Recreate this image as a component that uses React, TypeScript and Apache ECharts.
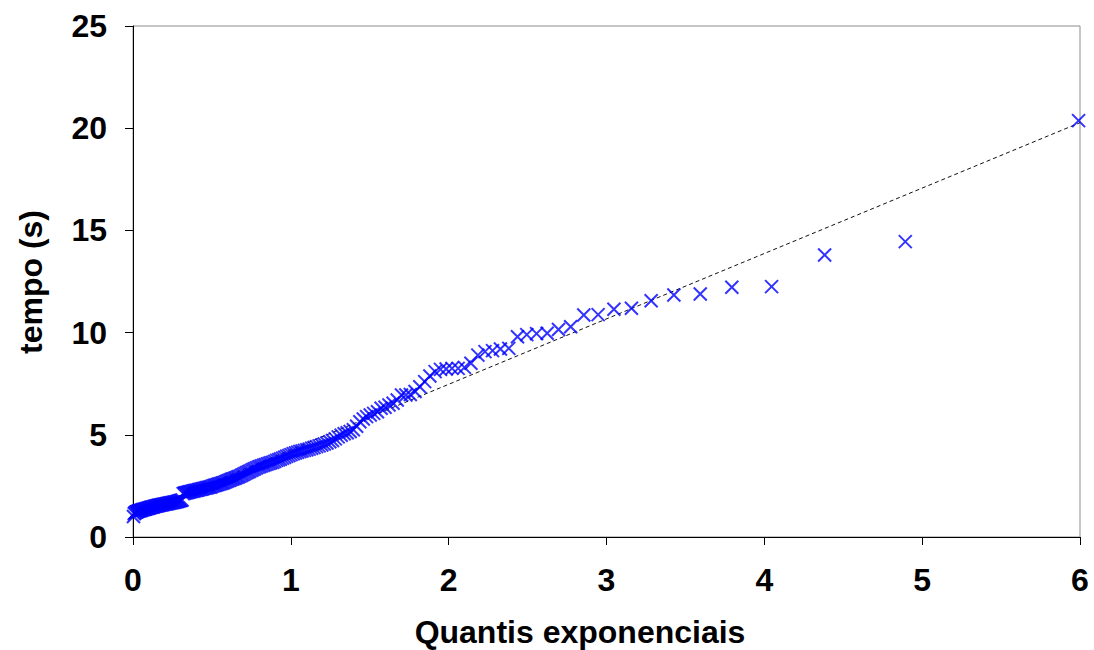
import React, { useEffect, useRef } from "react";
import * as echarts from "echarts";

// Exponential quantiles (x) for the 200 sorted observations
const quantiles = [
  0.003, 0.008, 0.013, 0.018, 0.023, 0.028, 0.033, 0.038, 0.043, 0.049,
  0.054, 0.059, 0.065, 0.070, 0.075, 0.081, 0.086, 0.092, 0.097, 0.103,
  0.108, 0.114, 0.119, 0.125, 0.131, 0.136, 0.142, 0.148, 0.154, 0.160,
  0.165, 0.171, 0.177, 0.183, 0.189, 0.195, 0.202, 0.208, 0.214, 0.220,
  0.226, 0.233, 0.239, 0.245, 0.252, 0.258, 0.265, 0.271, 0.278, 0.284,
  0.291, 0.298, 0.304, 0.311, 0.318, 0.325, 0.332, 0.339, 0.346, 0.353,
  0.360, 0.367, 0.375, 0.382, 0.389, 0.397, 0.404, 0.412, 0.419, 0.427,
  0.435, 0.442, 0.450, 0.458, 0.466, 0.474, 0.482, 0.490, 0.498, 0.507,
  0.515, 0.523, 0.532, 0.540, 0.549, 0.558, 0.567, 0.575, 0.584, 0.593,
  0.602, 0.612, 0.621, 0.630, 0.640, 0.649, 0.659, 0.668, 0.678, 0.688,
  0.698, 0.708, 0.718, 0.729, 0.739, 0.750, 0.760, 0.771, 0.782, 0.793,
  0.804, 0.815, 0.827, 0.838, 0.850, 0.862, 0.873, 0.886, 0.898, 0.910,
  0.923, 0.935, 0.948, 0.961, 0.974, 0.988, 1.001, 1.015, 1.029, 1.043,
  1.057, 1.071, 1.086, 1.101, 1.116, 1.132, 1.147, 1.163, 1.179, 1.196,
  1.212, 1.229, 1.247, 1.264, 1.282, 1.300, 1.319, 1.338, 1.357, 1.376,
  1.396, 1.417, 1.437, 1.459, 1.480, 1.503, 1.525, 1.549, 1.572, 1.597,
  1.622, 1.648, 1.674, 1.701, 1.729, 1.757, 1.787, 1.817, 1.848, 1.881,
  1.914, 1.948, 1.984, 2.021, 2.060, 2.100, 2.141, 2.185, 2.230, 2.278,
  2.328, 2.381, 2.436, 2.495, 2.557, 2.624, 2.696, 2.773, 2.856, 2.947,
  3.047, 3.158, 3.283, 3.427, 3.594, 3.794, 4.046, 4.382, 4.893, 5.991,
];

// Observed times in seconds (sorted)
const times = [
  1.00, 1.14, 1.18, 1.21, 1.23, 1.25, 1.26, 1.28, 1.29, 1.30,
  1.31, 1.33, 1.34, 1.35, 1.36, 1.37, 1.39, 1.40, 1.41, 1.42,
  1.44, 1.45, 1.46, 1.47, 1.48, 1.50, 1.51, 1.52, 1.53, 1.54,
  1.55, 1.56, 1.57, 1.58, 1.59, 1.60, 1.61, 1.62, 1.63, 1.64,
  1.65, 1.66, 1.67, 1.68, 1.69, 1.70, 1.71, 1.72, 1.73, 1.75,
  1.76, 1.78, 1.79, 1.81, 2.12, 2.14, 2.16, 2.17, 2.18, 2.20,
  2.21, 2.22, 2.24, 2.25, 2.26, 2.28, 2.29, 2.30, 2.32, 2.33,
  2.35, 2.36, 2.38, 2.39, 2.41, 2.42, 2.44, 2.45, 2.47, 2.50,
  2.52, 2.54, 2.56, 2.58, 2.60, 2.62, 2.64, 2.66, 2.69, 2.72,
  2.75, 2.78, 2.81, 2.84, 2.86, 2.89, 2.92, 2.95, 2.98, 3.02,
  3.06, 3.10, 3.14, 3.18, 3.22, 3.26, 3.30, 3.34, 3.38, 3.42,
  3.45, 3.48, 3.51, 3.54, 3.57, 3.60, 3.63, 3.66, 3.70, 3.75,
  3.78, 3.82, 3.86, 3.90, 3.95, 3.99, 4.03, 4.07, 4.11, 4.15,
  4.18, 4.21, 4.24, 4.27, 4.30, 4.34, 4.38, 4.42, 4.46, 4.50,
  4.55, 4.60, 4.66, 4.72, 4.80, 4.90, 4.98, 5.05, 5.10, 5.16,
  5.25, 5.42, 5.64, 5.77, 5.89, 5.97, 6.05, 6.13, 6.30, 6.35,
  6.46, 6.54, 6.70, 6.95, 6.95, 6.97, 7.12, 7.35, 7.60, 7.88,
  8.09, 8.20, 8.22, 8.25, 8.25, 8.30, 8.50, 8.90, 9.07, 9.12,
  9.20, 9.23, 9.80, 9.90, 9.95, 9.97, 10.15, 10.29, 10.86, 10.88,
  11.14, 11.19, 11.56, 11.84, 11.89, 12.22, 12.25, 13.80, 14.45, 20.37,
];

// Reference (fitted) line endpoints
const trendX = [0, 6];
const trendY = [1.07, 20.27];

const xTitle = "Quantis exponenciais";
const yTitle = "tempo (s)";

const FONT = '"Liberation Sans", Arial, Helvetica, sans-serif';

export default function App() {
  const ref = useRef<HTMLDivElement>(null);

  useEffect(() => {
    if (!ref.current) return;
    const chart = echarts.init(ref.current, null, { renderer: "svg" });
    const labelStyle = {
      color: "#000",
      fontSize: 32,
      fontWeight: "bold" as const,
      fontFamily: FONT,
    };
    chart.setOption({
      animation: false,
      backgroundColor: "#fff",
      grid: {
        left: 133,
        top: 26,
        right: 14,
        bottom: 113,
        show: true,
        borderColor: "#8c8c8c",
        borderWidth: 1,
      },
      xAxis: {
        type: "value",
        min: 0,
        max: 6,
        interval: 1,
        axisLine: { show: true, onZero: false, lineStyle: { color: "#000", width: 1 } },
        axisTick: { show: true, length: 8, lineStyle: { color: "#000", width: 1 } },
        splitLine: { show: false },
        axisLabel: { ...labelStyle, margin: 27 },
      },
      yAxis: {
        type: "value",
        min: 0,
        max: 25,
        interval: 5,
        axisLine: { show: true, onZero: false, lineStyle: { color: "#000", width: 1 } },
        axisTick: { show: true, length: 8, lineStyle: { color: "#000", width: 1 } },
        splitLine: { show: false },
        axisLabel: { ...labelStyle, margin: 26 },
      },
      series: [
        {
          type: "line",
          data: trendX.map((x, i) => [x, trendY[i]]),
          symbol: "none",
          silent: true,
          lineStyle: { color: "#111", width: 1, type: [4, 3] },
          z: 1,
        },
        {
          type: "scatter",
          data: quantiles.map((x, i) => [x, times[i]]),
          symbol: "path://M0,0L10,10M10,0L0,10",
          symbolSize: 13,
          itemStyle: { color: "transparent", borderColor: "#0000ff", borderWidth: 2 },
          z: 2,
        },
      ],
      graphic: [
        {
          type: "text",
          x: 580,
          y: 632,
          style: {
            text: xTitle,
            font: `bold 32px ${FONT}`,
            fill: "#000",
            textAlign: "center",
            textVerticalAlign: "middle",
          },
        },
        {
          type: "text",
          x: 31,
          y: 282,
          rotation: Math.PI / 2,
          style: {
            text: yTitle,
            font: `bold 32px ${FONT}`,
            fill: "#000",
            textAlign: "center",
            textVerticalAlign: "middle",
          },
        },
      ],
    });
    return () => chart.dispose();
  }, []);

  return (
    <div
      ref={ref}
      style={{ position: "fixed", left: 0, top: 0, width: 1094, height: 650, background: "#fff" }}
    />
  );
}
